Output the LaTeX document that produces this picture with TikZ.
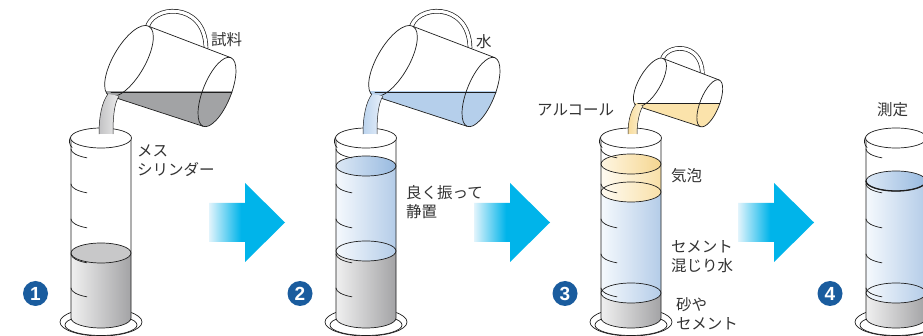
\documentclass[tikz,border=0pt]{standalone}
\usepackage{fontspec}
\newfontfamily\jpfont{Noto Sans CJK JP}
\newfontfamily\numfont{Liberation Sans}

\definecolor{inkc}{HTML}{1E1E1E}
\definecolor{txtc}{HTML}{333333}
\definecolor{numblue}{HTML}{1A5C9E}
\definecolor{cyanA}{HTML}{00B4EA}
\definecolor{cyanP}{HTML}{E2F4FC}
\definecolor{greyL}{HTML}{F0F0F0}
\definecolor{greyD}{HTML}{A3A3A5}
\definecolor{greyTop}{HTML}{C8C8C9}
\definecolor{blueL}{HTML}{F5F9FD}
\definecolor{blueD}{HTML}{B4CCE8}
\definecolor{blueTopL}{HTML}{DCE8F5}
\definecolor{blueTopD}{HTML}{98BAE0}
\definecolor{yelL}{HTML}{FFFBF2}
\definecolor{yelD}{HTML}{F8E0A8}
\definecolor{yelTopL}{HTML}{FFF6E2}
\definecolor{yelTopD}{HTML}{F5D690}
\definecolor{potgrey}{HTML}{A2A3A5}
\definecolor{potblue}{HTML}{B5CFEB}
\definecolor{potyel}{HTML}{FBE3AB}
\definecolor{strGreyD}{HTML}{C2C2C4}
\definecolor{strGreyL}{HTML}{EDEDED}
\definecolor{strBlueD}{HTML}{BCD4EE}
\definecolor{strBlueL}{HTML}{E8F0FA}
\definecolor{strYelD}{HTML}{F8DC9C}
\definecolor{strYelL}{HTML}{FDF2D6}

% pale on the left, full cyan from about 40% of the arrow length
\pgfdeclarehorizontalshading{flow}{100bp}{color(0bp)=(cyanP); color(25bp)=(cyanP); color(46bp)=(cyanA); color(100bp)=(cyanA)}

\tikzset{
  ink/.style={draw=inkc, line width=0.7pt},
  lbl/.style={font=\jpfont\fontsize{15.5}{19}\selectfont, text=txtc, inner sep=0pt, align=left, anchor=west},
  numc/.style={circle, fill=numblue, minimum size=25pt, inner sep=0pt, text=white,
               font=\numfont\bfseries\fontsize{19}{19}\selectfont},
  flowarrow/.style={shading=flow},
}

% graduated cylinder, centred on x = 0
\newcommand\glassbase{%
  \draw[ink, fill=white] (0,322) ellipse[x radius=41pt, y radius=14pt];
  \draw[ink] (0,325) ellipse[x radius=36pt, y radius=10.5pt];
  \fill[white] (-30,138) -- (-30,318) arc[start angle=180, end angle=360, x radius=30pt, y radius=10pt] -- (30,138) -- cycle;
}
% liquid column: top y, bottom y, left colour, right colour
\newcommand\liqlayer[4]{%
  \shade[left color=#3, right color=#4] (-30,#1) -- (-30,#2) arc[start angle=180, end angle=360, x radius=30pt, y radius=10pt] -- (30,#1) -- cycle;
}
% free surface of a liquid
\newcommand\liqtop[3]{%
  \shadedraw[ink, left color=#2, right color=#3] (0,#1) ellipse[x radius=30pt, y radius=10pt];
}
\newcommand\glassfront{%
  \foreach \ty in {149,184,219,254,288}
    \draw[ink] (-30,\ty) arc[start angle=180, end angle=242, x radius=30pt, y radius=10pt];
  \draw[ink] (-30,138) -- (-30,318) arc[start angle=180, end angle=360, x radius=30pt, y radius=10pt] -- (30,138);
  \draw[ink, fill=white] (0,138) ellipse[x radius=30.5pt, y radius=10pt];
  \draw[ink] (-29,147.5) .. controls (-31.5,145) and (-32.5,141) .. (-30.5,137);
}

% tilted jug, origin at the spout
\newcommand\pitcher[1]{%
  \draw[ink, double=white, double distance=3.2pt] (37,-64) .. controls (40,-88) and (95,-93) .. (96,-45);
  \fill[white] (39,-66.6) -- (-1,2.6) -- (93.1,33.3) -- (120.9,-35.3) -- cycle;
  \fill[white, shift={(19,-32)}, rotate=60] (0,0) ellipse[x radius=40pt, y radius=16pt];
  \fill[white, shift={(107,-1)}, rotate=68] (0,0) ellipse[x radius=37pt, y radius=14pt];
  \begin{scope}
    \clip (-40,-1) rectangle (160,60);
    \fill[#1] (39,-66.6) -- (-1,2.6) -- (93.1,33.3) -- (120.9,-35.3) -- cycle;
    \fill[#1, shift={(19,-32)}, rotate=60] (0,0) ellipse[x radius=40pt, y radius=16pt];
    \fill[#1, shift={(107,-1)}, rotate=68] (0,0) ellipse[x radius=37pt, y radius=14pt];
  \end{scope}
  \draw[ink] (1,-1) -- (121.9,-1);
  \draw[ink, shift={(19,-32)}, rotate=60] (0,0) ellipse[x radius=40pt, y radius=16pt];
  \draw[ink, shift={(107,-1)}, rotate=68] (0,0) ellipse[x radius=37pt, y radius=14pt];
  \draw[ink] (39,-66.6) -- (120.9,-35.3);
  \draw[ink] (-1,2.6) -- (93.1,33.3);
}

\begin{document}
\begin{tikzpicture}[x=1pt, y=-1pt, line join=round, line cap=round]
\useasboundingbox (0,0) rectangle (923,336);
\clip (0,0) rectangle (923,336);
\fill[white] (0,0) rectangle (923,336);

% ---- step 1: sample poured into the cylinder
\begin{scope}[shift={(101,0)}]
  \glassbase
  \liqlayer{253}{318}{greyL}{greyD}
  \draw[ink, fill=greyTop] (0,253) ellipse[x radius=30pt, y radius=10pt];
  \glassfront
\end{scope}
\begin{scope}[shift={(110,93)}]
  \pitcher{potgrey}
\end{scope}
\shade[left color=strGreyD, right color=strGreyL] (108,94) .. controls (102,102) and (99,116) .. (99,134) -- (113,134) .. controls (113,118) and (114,104) .. (119,96) -- cycle;
\draw[ink, line width=0.5pt] (108,94) .. controls (102,102) and (99,116) .. (99,134);
\draw[ink, line width=0.5pt] (113,134) .. controls (113,118) and (114,104) .. (119,96);

% ---- step 2: water added, shaken and left to stand
\begin{scope}[shift={(366,0)}]
  \glassbase
  \liqlayer{251}{318}{greyL}{greyD}
  \liqlayer{166}{251}{blueL}{blueD}
  \draw[ink] (0,251) ellipse[x radius=30pt, y radius=10pt];
  \liqtop{166}{blueTopL}{blueTopD}
  \glassfront
\end{scope}
\begin{scope}[shift={(374,93)}]
  \pitcher{potblue}
\end{scope}
\shade[left color=strBlueD, right color=strBlueL] (372,94) .. controls (366,102) and (363,116) .. (363,134) -- (377,134) .. controls (377,118) and (378,104) .. (383,96) -- cycle;
\draw[ink, line width=0.5pt] (372,94) .. controls (366,102) and (363,116) .. (363,134);
\draw[ink, line width=0.5pt] (377,134) .. controls (377,118) and (378,104) .. (383,96);

% ---- step 3: alcohol removes the foam
\begin{scope}[shift={(631,0)}]
  \glassbase
  \liqlayer{293}{318}{greyL}{greyD}
  \liqlayer{192}{293}{blueL}{blueD}
  \liqlayer{164}{192}{yelL}{yelD}
  \draw[ink] (0,293) ellipse[x radius=30pt, y radius=10pt];
  \draw[ink] (0,192) ellipse[x radius=30pt, y radius=10pt];
  \liqtop{164}{yelTopL}{yelTopD}
  \glassfront
\end{scope}
\begin{scope}[shift={(637,104)}, scale=0.68]
  \pitcher{potyel}
\end{scope}
\shade[left color=strYelD, right color=strYelL] (636,104) .. controls (631,110) and (628,120) .. (628,134) -- (637,134) .. controls (637,124) and (639,112) .. (643,106) -- cycle;
\draw[ink, line width=0.5pt] (636,104) .. controls (631,110) and (628,120) .. (628,134);
\draw[ink, line width=0.5pt] (637,134) .. controls (637,124) and (639,112) .. (643,106);

% ---- step 4: reading the volume
\begin{scope}[shift={(896,0)}]
  \glassbase
  \liqlayer{293}{318}{greyL}{greyD}
  \liqlayer{181}{293}{blueL}{blueD}
  \draw[ink] (0,293) ellipse[x radius=30pt, y radius=10pt];
  \liqtop{181}{blueTopL}{blueTopD}
  \draw[ink, line width=1.3pt] (-30,181) arc[start angle=180, end angle=360, x radius=30pt, y radius=10pt];
  \glassfront
\end{scope}

% ---- arrows between the steps
\foreach \ax in {209, 474, 738}
  \shade[flowarrow] (\ax,203) -- (\ax+36,203) -- (\ax+36,183) -- (\ax+76,222.5)
        -- (\ax+36,262) -- (\ax+36,242) -- (\ax,242) -- cycle;

% ---- step numbers
\node[numc] (n1) at (35.5,293.5) {1};
\node[numc] (n2) at (300,293.5) {2};
\node[numc] (n3) at (565,293.5) {3};
\node[numc] (n4) at (830,293.5) {4};

% ---- labels
\node[lbl] (t1) at (211,40) {試料};
\node[lbl] (t2) at (137,161) {メス\\シリンダー};
\node[lbl] (t3) at (476,42) {水};
\node[lbl] (t4) at (406,202) {良く振って\\静置};
\node[lbl] (t5) at (537,110) {アルコール};
\node[lbl] (t6) at (671,176) {気泡};
\node[lbl] (t7) at (671,257) {セメント\\混じり水};
\node[lbl] (t8) at (676,314) {砂や\\セメント};
\node[lbl] (t9) at (877,110) {測定};
\end{tikzpicture}
\end{document}
